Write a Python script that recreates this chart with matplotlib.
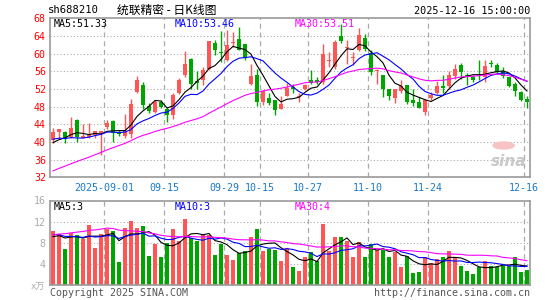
import matplotlib
matplotlib.use('Agg')
import matplotlib.pyplot as plt
import numpy as np
import pandas as pd

plt.rcParams['font.family'] = ['DejaVu Sans Mono', 'Noto Sans CJK SC']

# trading days 2025-08-19 .. 2025-12-16 (National Day holiday removed)
days = pd.bdate_range('2025-08-19', '2025-12-16')
days = days[~((days >= '2025-10-01') & (days <= '2025-10-08'))]

opens = [40.4, 42.3, 42.3, 41.2, 45.0, 41.0, 41.1, 41.5, 41.9, 43.3,
         44.8, 42.2, 41.3, 41.8, 51.4, 52.8, 48.1, 46.8, 49.1, 47.5,
         46.0, 51.1, 55.1, 58.7, 53.8, 54.0, 56.6, 62.3, 60.3, 58.6,
         62.3, 63.4, 62.1, 53.2, 55.1, 49.1, 50.0, 49.4, 47.5, 50.5,
         52.5, 50.2, 52.1, 54.0, 54.0, 53.6, 58.4, 57.0, 64.0, 61.3,
         59.0, 60.9, 63.6, 60.1, 56.0, 55.1, 52.1, 50.0, 51.5, 52.8,
         49.4, 49.1, 46.8, 50.0, 51.1, 52.6, 52.6, 54.9, 57.4, 55.1,
         54.6, 55.2, 54.7, 57.8, 57.5, 56.1, 54.6, 53.2, 51.3, 49.7]
highs = [43.1, 43.0, 42.5, 45.7, 45.1, 44.0, 44.4, 42.5, 42.5, 44.9,
         44.9, 42.6, 46.3, 49.8, 55.0, 53.5, 48.9, 49.6, 49.4, 48.0,
         51.0, 54.4, 60.6, 59.0, 56.1, 57.0, 62.9, 63.2, 65.1, 65.3,
         64.9, 66.0, 62.2, 57.6, 56.6, 51.8, 51.2, 49.5, 50.3, 53.4,
         53.2, 51.1, 53.2, 56.4, 54.7, 62.1, 60.4, 63.0, 66.6, 63.0,
         60.4, 65.9, 64.4, 60.9, 56.6, 55.1, 52.1, 52.1, 54.0, 52.8,
         52.1, 50.2, 49.5, 51.3, 53.8, 55.1, 56.1, 57.7, 57.9, 55.6,
         55.1, 58.5, 58.6, 58.6, 57.8, 56.9, 54.8, 53.6, 51.5, 50.3]
lows = [39.8, 40.9, 39.8, 41.0, 40.0, 40.8, 40.9, 40.8, 37.0, 43.0,
        40.0, 41.4, 40.8, 40.8, 51.2, 47.5, 46.6, 46.6, 47.6, 44.6,
        45.1, 50.9, 54.8, 52.1, 52.1, 53.0, 56.2, 59.6, 58.1, 58.3,
        61.5, 60.8, 58.5, 53.0, 48.1, 48.3, 48.3, 46.2, 47.4, 50.4,
        51.1, 49.1, 51.7, 53.2, 53.2, 53.2, 57.0, 56.6, 62.3, 57.7,
        57.4, 60.6, 60.6, 55.1, 53.1, 50.2, 49.5, 48.8, 51.1, 48.7,
        48.2, 47.8, 46.0, 49.4, 50.8, 51.1, 52.0, 54.3, 54.3, 52.8,
        53.5, 54.0, 53.5, 57.0, 55.5, 54.5, 52.4, 50.3, 49.3, 47.8]
closes = [42.2, 42.9, 41.0, 43.2, 41.2, 41.4, 41.5, 42.4, 42.4, 44.3,
          42.0, 41.8, 42.4, 48.7, 54.0, 48.3, 46.9, 49.1, 48.0, 46.2,
          50.6, 54.0, 57.6, 53.2, 53.3, 56.4, 62.8, 60.8, 60.1, 61.9,
          62.6, 60.9, 59.1, 54.9, 49.1, 51.5, 48.8, 47.2, 48.7, 52.2,
          52.1, 50.4, 52.8, 53.4, 53.5, 60.0, 58.6, 62.6, 62.8, 61.5,
          59.2, 64.3, 61.1, 55.8, 56.2, 52.1, 50.4, 52.0, 52.7, 49.1,
          48.9, 47.8, 49.4, 50.6, 52.6, 52.2, 55.1, 56.5, 55.9, 54.7,
          54.0, 55.0, 57.1, 57.6, 55.9, 54.9, 52.6, 51.5, 49.6, 49.1]
volumes = [10.3, 9.6, 6.9, 9.8, 9.4, 8.8, 11.3, 7.1, 9.7, 10.7,
           10.2, 4.4, 10.9, 12.2, 10.8, 11.1, 5.6, 7.7, 5.3, 8.0,
           10.7, 8.3, 12.6, 8.9, 8.4, 9.5, 9.5, 5.8, 7.7, 5.8,
           4.8, 6.1, 6.5, 9.1, 10.7, 6.5, 6.9, 6.7, 4.6, 7.1,
           3.4, 2.7, 5.4, 6.3, 4.6, 11.6, 6.5, 9.2, 9.1, 8.3,
           5.3, 8.1, 5.3, 7.8, 6.7, 6.7, 5.4, 6.3, 3.4, 5.6,
           2.4, 2.6, 5.4, 4.2, 5.0, 5.4, 6.4, 5.3, 3.7, 2.7,
           2.2, 3.5, 4.6, 3.7, 3.5, 3.7, 3.7, 5.3, 2.6, 2.9]
# closes / volumes before the window, inferred from where the MA lines start
pre_close = [25.8, 26.0, 26.3, 26.1, 26.5, 26.8, 26.4, 26.7, 27.0, 26.9,
             27.3, 27.6, 30.4, 33.4, 33.0, 34.5, 35.2, 36.0, 36.5, 38.8,
             40.5, 41.8, 41.2, 42.0, 41.5, 39.5, 38.9, 39.6, 39.0]
pre_vol = [5.2, 4.8, 5.0, 5.3, 4.9, 5.1, 4.7, 5.0, 5.2, 12.5,
           13.8, 12.9, 14.2, 13.0, 12.6, 13.5, 12.8, 13.4, 12.7, 13.1,
           9.8, 10.4, 9.6, 10.3, 9.9, 8.6, 9.2, 8.8, 9.0]

tick_dates = ['2025-09-01', '2025-09-15', '2025-09-29', '2025-10-15',
              '2025-10-27', '2025-11-10', '2025-11-24', '2025-12-16']
tick_labels = ['2025-09-01', '09-15', '09-29', '10-15', '10-27', '11-10', '11-24', '12-16']

o = np.array(opens); h = np.array(highs); l = np.array(lows); c = np.array(closes)
v = np.array(volumes)
n = len(c)
x = np.arange(n)

cs = pd.Series(pre_close + closes)
vs = pd.Series(pre_vol + volumes)
ma = {k: cs.rolling(k).mean().values[-n:] for k in (5, 10, 30)}
vma = {k: vs.rolling(k).mean().values[-n:] for k in (5, 10, 30)}

RED = '#ff5555'
GREEN = '#00a600'
GRID = '#aaaaaa'
FRAME = '#999999'
up = c >= o
col = np.where(up, RED, GREEN)

W, H = 545, 300
fig = plt.figure(figsize=(W / 100, H / 100), dpi=100)


def fx(px):
    return px / W


def fy(py):
    return 1 - py / H


ax1 = fig.add_axes([fx(50), fy(177.3), fx(480), (177.3 - 18.3) / H])
ax2 = fig.add_axes([fx(50), fy(285.3), fx(480), (285.3 - 200.5) / H])

tick_pos = np.array([days.get_loc(pd.Timestamp(d)) for d in tick_dates]) - 0.5

for ax in (ax1, ax2):
    ax.set_xlim(-0.5, n - 0.5)
    for s in ax.spines.values():
        s.set_color(FRAME)
        s.set_linewidth(1.2)
    for t in tick_pos:
        ax.axvline(t, color=GRID, lw=0.9, ls=(0, (4, 3)), zorder=0)
    ax.tick_params(length=0)

# sina watermark (behind the candles)
ax1.text(0.955, 0.1, 'sina', transform=ax1.transAxes, fontsize=11, style='italic',
         weight='bold', va='center', ha='center', color='#c8c8c8',
         family='DejaVu Sans', zorder=1)
ax1.add_patch(plt.Circle((0.945, 0.2), 0.022, transform=ax1.transAxes,
                         color='#f6c4c4', zorder=1))

# price panel
ax1.set_ylim(32, 68)
for yv in range(36, 68, 4):
    ax1.axhline(yv, color=GRID, lw=0.8, ls=(0, (1, 2)), zorder=0)
ax1.vlines(x, l, h, colors=col, lw=1, zorder=2)
body = np.maximum(np.abs(c - o), 0.15)
ax1.bar(x, body, bottom=np.minimum(o, c), width=0.8, color=col, zorder=3)
ax1.plot(x, ma[5], color='black', lw=0.8, zorder=4)
ax1.plot(x, ma[10], color='#0000ff', lw=0.8, zorder=4)
ax1.plot(x, ma[30], color='#ff00ff', lw=0.8, zorder=4)
ax1.set_yticks(range(32, 69, 4))
ax1.tick_params(axis='y', colors='#ff0000', labelsize=7.2, pad=3)
ax1.set_xticks(tick_pos)
ax1.set_xticklabels(tick_labels)
ax1.tick_params(axis='x', colors='#1a7ac8', labelsize=7.2, pad=4)

# volume panel
ax2.set_ylim(0, 16)
for yv in (4, 8, 12):
    ax2.axhline(yv, color=GRID, lw=0.8, ls=(0, (1, 2)), zorder=0)
ax2.bar(x, v, width=0.82, color=col, zorder=2)
ax2.plot(x, vma[5], color='black', lw=0.8, zorder=4)
ax2.plot(x, vma[10], color='#0000ff', lw=0.8, zorder=4)
ax2.plot(x, vma[30], color='#ff00ff', lw=0.8, zorder=4)
ax2.set_yticks([4, 8, 12, 16])
ax2.tick_params(axis='y', colors='#aaaaaa', labelsize=7.2, pad=3)
ax2.set_xticks([])

# header and labels
fig.text(fx(48), fy(10), 'sh688210', fontsize=7.6, va='center', ha='left')
fig.text(fx(117), fy(10), '统联精密 - 日K线图', fontsize=8.5, va='center', ha='left',
         family=['Noto Sans CJK SC', 'DejaVu Sans'])
fig.text(fx(530), fy(11), '2025-12-16 15:00:00', fontsize=7.3, va='center', ha='right')

fig.text(fx(54), fy(24), 'MA5:51.33', fontsize=7.2, va='center', color='black')
fig.text(fx(175), fy(24), 'MA10:53.46', fontsize=7.2, va='center', color='#0000ff')
fig.text(fx(295), fy(24), 'MA30:53.51', fontsize=7.2, va='center', color='#ff00ff')

fig.text(fx(54), fy(207), 'MA5:3', fontsize=7.2, va='center', color='black')
fig.text(fx(175), fy(207), 'MA10:3', fontsize=7.2, va='center', color='#0000ff')
fig.text(fx(295), fy(207), 'MA30:4', fontsize=7.2, va='center', color='#ff00ff')

fig.text(fx(45), fy(287), 'x万', fontsize=6.5, va='center', ha='right', color='#aaaaaa')
fig.text(fx(50), fy(293), 'Copyright 2025 SINA.COM', fontsize=7.2, va='center', color='#555555')
fig.text(fx(530), fy(293), 'http://finance.sina.com.cn', fontsize=7.2, va='center',
         ha='right', color='#555555')

fig.savefig('out.png', dpi=100)
